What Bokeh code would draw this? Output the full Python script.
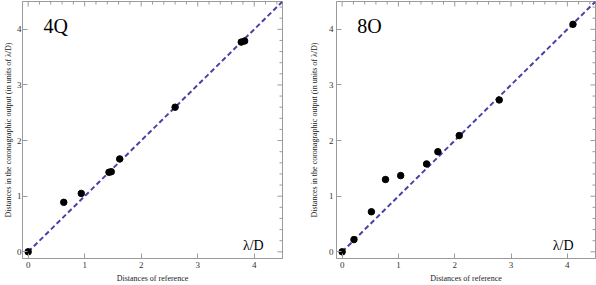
import numpy as np
from bokeh.plotting import figure
from bokeh.layouts import row
from bokeh.models import Label, Range1d
from bokeh.embed import file_html
from bokeh.resources import INLINE

# 4Q panel data
q_ref = [0.0, 0.63, 0.94, 1.43, 1.47, 1.62, 2.60, 3.77, 3.83]
q_out = [0.0, 0.89, 1.05, 1.43, 1.44, 1.67, 2.60, 3.77, 3.79]
# 8O panel data
o_ref = [0.0, 0.21, 0.52, 0.77, 1.04, 1.50, 1.70, 2.08, 2.79, 4.10]
o_out = [0.0, 0.22, 0.72, 1.30, 1.37, 1.58, 1.80, 2.09, 2.73, 4.09]
diag = [0.0, 4.6]
ticks = [0, 1, 2, 3, 4]

FONT = "Liberation Serif"
GRAY = "#9a9a9a"
XR = (-0.1, 4.5)
YR = (-0.12, 4.5)


def style_axis(ax):
    ax.ticker = ticks
    ax.ticker.num_minor_ticks = 5
    ax.axis_line_color = GRAY
    ax.major_tick_line_color = GRAY
    ax.minor_tick_line_color = GRAY
    ax.major_tick_in = 5
    ax.major_tick_out = 0
    ax.minor_tick_in = 3
    ax.minor_tick_out = 0
    ax.major_label_text_font = FONT
    ax.major_label_text_color = "#333333"
    ax.major_label_text_font_size = "9px"
    ax.major_label_standoff = 3
    ax.axis_label_text_font = FONT
    ax.axis_label_text_font_style = "normal"
    ax.axis_label_text_font_size = "8px"
    ax.axis_label_text_color = "#222222"


def make(xs, ys, name, w, bl, br, ylab_standoff, tick_standoff, lam_x):
    p = figure(width=w, height=285, output_backend="svg", toolbar_location=None,
               x_range=Range1d(*XR), y_range=Range1d(*YR),
               min_border_left=bl, min_border_right=br, min_border_top=1,
               min_border_bottom=23)
    p.grid.visible = False
    p.outline_line_color = GRAY
    p.xaxis.axis_label = "Distances of reference"
    p.yaxis.axis_label = "Distances in the coronagraphic output (in units of \u03bb/D)"
    style_axis(p.xaxis[0])
    style_axis(p.yaxis[0])
    p.xaxis[0].axis_label_standoff = 3
    p.yaxis[0].axis_label_standoff = ylab_standoff
    p.yaxis[0].major_label_standoff = tick_standoff

    # inward ticks on the top and right frame edges
    major = np.array(ticks, dtype=float)
    minor = np.arange(1, 23) * 0.2
    minor = minor[~np.isclose(minor % 1.0, 0) & ~np.isclose(minor % 1.0, 1.0)]
    for vals, ln in ((major, 5), (minor, 3)):
        p.ray(x=vals, y=YR[1], length=ln, length_units="screen",
              angle=-np.pi / 2, line_color=GRAY, line_width=1)
        p.ray(x=XR[1], y=vals, length=ln, length_units="screen",
              angle=np.pi, line_color=GRAY, line_width=1)

    p.line(diag, diag, line_color="#4842a6", line_width=2, line_dash="5 3")
    p.scatter(xs, ys, size=6.5, color="black")

    p.add_layout(Label(x=0.27, y=3.87, text=name, text_font=FONT,
                       text_font_size="20px", text_color="black"))
    p.add_layout(Label(x=lam_x, y=-0.02, text="\u03bb/D", text_font=FONT,
                       text_font_size="14px", text_color="black"))
    return p


p1 = make(q_ref, q_out, "4Q", 300, 22, 18, 1, 1, 3.8)
p2 = make(o_ref, o_out, "8O", 296, 36, 1, 7, 3, 3.74)
layout = row(p1, p2)

open("out.html", "w").write(file_html(layout, INLINE))
